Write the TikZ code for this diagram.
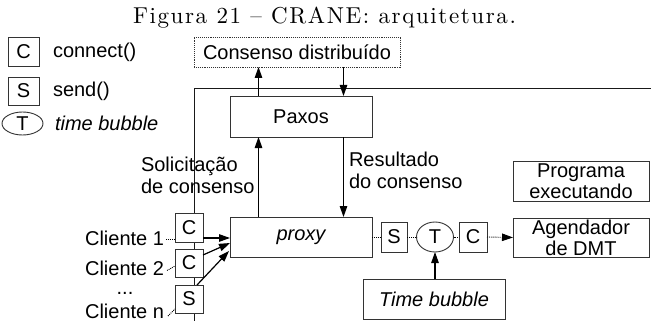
\documentclass[tikz,border=0pt]{standalone}
\usepackage{fontspec}
\usepackage{graphicx}
\newfontfamily\diagfont{Liberation Sans}
\newfontfamily\capfont{lmroman10-regular}[Extension=.otf, Ligatures=TeX, LetterSpace=7]
\usetikzlibrary{arrows.meta,shapes.geometric}
\begin{document}
\begin{tikzpicture}[x=1pt,y=-1pt,
  every node/.style={inner sep=0pt, outer sep=0pt, font=\diagfont\fontsize{20}{21}\selectfont},
  blk/.style={draw=black!80, line width=0.9pt, fill=white, align=center},
  tag/.style={blk, minimum width=28pt, minimum height=29pt},
  bub/.style={draw=black!80, line width=0.9pt, fill=white, ellipse},
  arr/.style={line width=1.2pt, -{Triangle[length=11pt,width=7.5pt]}},
  dots/.style={line width=0.9pt, densely dotted},
  lbl/.style={align=left, anchor=north west}]
\useasboundingbox (0,0) rectangle (651,321);

% caption
\node[font=\capfont\fontsize{23}{25}\selectfont, anchor=base west] (title) at (133,24) {Figura 21 -- CRANE: arquitetura.};

% legend
\node[tag, minimum width=31pt] (lgC) at (23.5,51.5) {C};
\node[anchor=west] (lgCt) at (53,52) {connect()};
\node[tag, minimum width=31pt, minimum height=28pt] (lgS) at (23.5,91) {S};
\node[anchor=west] (lgSt) at (53,91) {send()};
\node[bub, minimum width=41pt, minimum height=23pt] (lgT) at (22.5,123.5) {T};
\node[anchor=west, font=\diagfont\itshape\fontsize{20}{21}\selectfont] (lgTt) at (55,123) {time bubble};

% distributed consensus service
\node[draw=black!80, line width=0.9pt, densely dotted, minimum width=206pt, minimum height=30pt] (cons) at (297,52) {Consenso distribuído};

% frame of the replica
\coordinate (frameTL) at (194.5,88);
\draw[line width=0.9pt, black!90] (frameTL |- 0,321) -- (frameTL) -- (651,88);

% replica components
\node[blk, minimum width=142pt, minimum height=41pt] (paxos) at (301,116.5) {Paxos};
\node[blk, minimum width=142pt, minimum height=40pt, font=\diagfont\itshape\fontsize{20}{21}\selectfont] (proxy) at (301,237) {proxy};
\node[blk, minimum width=136pt, minimum height=40pt] (prog) at (581,181) {Programa\\executando};
\node[blk, minimum width=136pt, minimum height=39pt] (dmt) at (581,237.5) {Agendador\\de DMT};
\node[blk, minimum width=142pt, minimum height=40pt, font=\diagfont\itshape\fontsize{20}{21}\selectfont] (tb) at (434,299) {Time bubble};

% send / time bubble / connect chain
\node[tag, minimum width=26pt, minimum height=30pt] (rS) at (394,237) {S};
\node[bub, minimum width=37pt, minimum height=30pt] (rT) at (435,237) {T};
\node[tag, minimum width=28pt, minimum height=30pt] (rC) at (473,237) {C};

% client side calls
\node[tag] (cC1) at (189,227.5) {C};
\node[tag, minimum height=28pt] (cC2) at (189,263) {C};
\node[tag, minimum height=28pt] (cS) at (189,299) {S};

% clients
\node[anchor=east] (cl1) at (164,238) {Cliente 1};
\node[anchor=east] (cl2) at (164,268.5) {Cliente 2};
\node[anchor=base, text height=2pt, text depth=0pt] (cldots) at (125,294) {...};
\node[anchor=east] (cln) at (164,311) {Cliente n};

% consensus labels
\node[lbl, font=\diagfont\fontsize{20}{22}\selectfont] (req) at (141,157) {Solicitação\\de consenso};
\node[lbl, font=\diagfont\fontsize{20}{22}\selectfont] (res) at (349,152) {Resultado\\do consenso};

% consensus arrows
\coordinate (upx) at (258.5,0);
\coordinate (downx) at (343.5,0);
\draw[arr] (proxy.north -| upx) -- (paxos.south -| upx);
\draw[arr] (paxos.north -| upx) -- (cons.south -| upx);
\draw[arr] (cons.south -| downx) -- (paxos.north -| downx);
\draw[arr] (paxos.south -| downx) -- (proxy.north -| downx);

% client to proxy
\draw[arr] (cC1.east |- 0,238) -- (proxy.west |- 0,238);
\draw[arr] (cC2.north east) ++(0,6) -- (proxy.west |- 0,243);
\draw[arr] (cS.north east) ++(-6,0) -- ([xshift=-1pt]proxy.west |- 0,251);

% client links
\draw[dots] (cl1.east) ++(2,1) -- (cC1.west |- 0,239);
\draw[dots] (cl2.east) ++(3,2) -- (cC2.west |- 0,266);
\draw[dots] (cln.east) ++(4,5) -- (cS.west |- 0,309);

% chain out of the proxy
\draw[dots] (proxy.east) -- (rS.west);
\draw[dots] (rS.east) -- (rT.west);
\draw[dots] (rT.east) -- (rC.west);
\draw[dots, -{Triangle[length=11pt,width=7.5pt]}] (rC.east) -- (dmt.west);

% time bubble trigger
\draw[arr] (tb.north -| rT.south) -- (rT.south);
\end{tikzpicture}
\end{document}
